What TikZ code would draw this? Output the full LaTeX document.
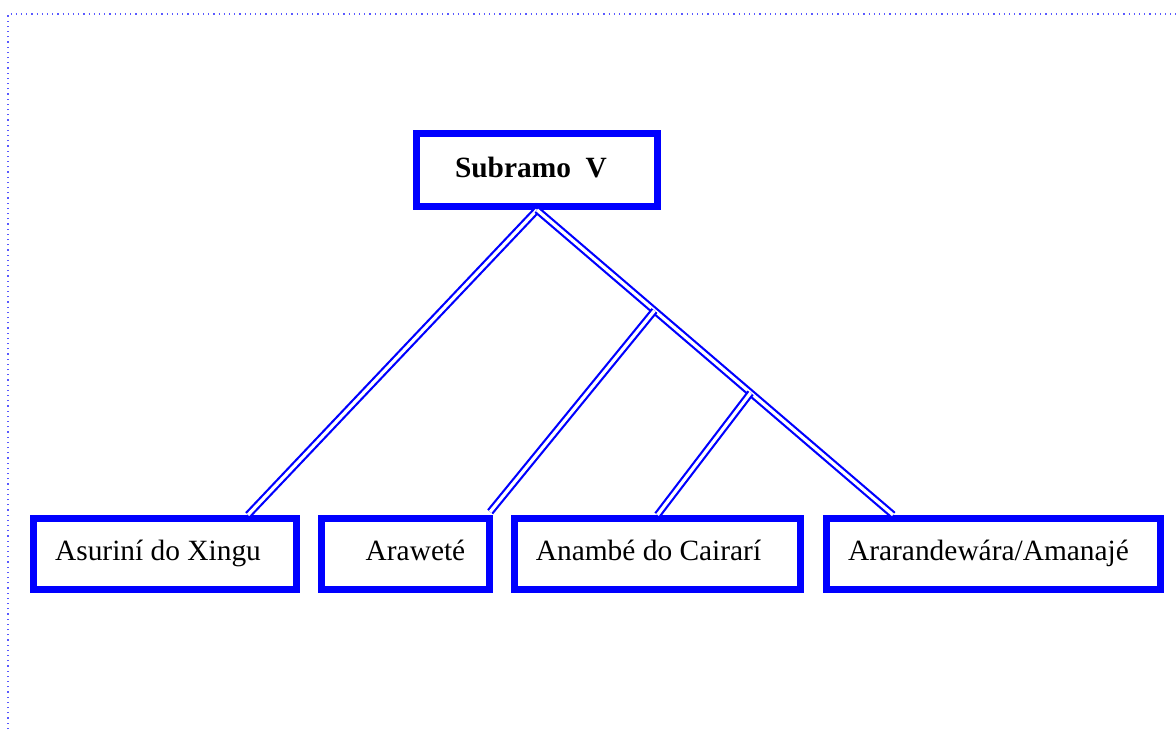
\documentclass[tikz,border=0pt]{standalone}
\usepackage{fontspec}
\setmainfont{Liberation Serif}
\usepackage{tikz}
\usetikzlibrary{calc}

\begin{document}
\begin{tikzpicture}[x=.5pt, y=-.5pt,
	box/.style={draw=blue, line width=3.4pt, minimum height=35.75pt, inner sep=0pt, text height=10pt, text depth=4pt, font=\fontsize{14.7}{17}\selectfont},
	link/.style={draw=blue, line width=1.1pt, double=white, double distance=1.6pt},
	frame/.style={draw=blue!65, line width=.6pt, dotted}]
	\useasboundingbox (0,0) rectangle (1176,729);
	\draw [frame] (8,729) -- (8,14) -- (1176,14);

	\node [box, minimum width=120.5pt, minimum height=36.5pt, text height=10.5pt, text depth=3.5pt, font=\fontsize{14.7}{17}\selectfont\bfseries] (sub) at (537,170) {Subramo\ \ V\hspace*{6pt}};
	\node [box, minimum width=131.75pt] (asu) at (165,554) {Asuriní do Xingu\hspace*{7pt}};
	\node [box, minimum width=84.25pt] (arw) at (405.5,554) {\hspace*{10pt}Araweté};
	\node [box, minimum width=143.25pt] (anb) at (657.5,554) {Anambé do Cairarí\hspace*{9pt}};
	\node [box, minimum width=167.25pt] (ara) at (993.5,554) {Ararandewára/Amanajé\hspace*{5pt}};

	\coordinate (rt) at ([xshift=-50.25pt]ara.north);
	\coordinate (j1) at ($(sub.south)!.33!(rt)$);
	\coordinate (j2) at ($(sub.south)!.6!(rt)$);

	\draw [link] (sub.south) -- ([xshift=41.5pt]asu.north);
	\draw [link] (sub.south) -- (rt);
	\draw [link] (j1) -- ([shift={(-1.5pt,1.5pt)}]arw.north east);
	\draw [link] (j2) -- (anb.north);
\end{tikzpicture}
\end{document}
